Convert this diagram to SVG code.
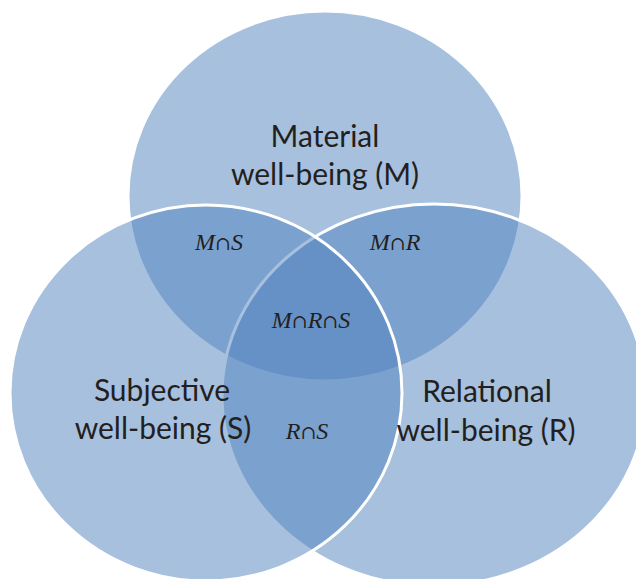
<svg xmlns="http://www.w3.org/2000/svg" width="636" height="579" viewBox="0 0 636 579">
<style>
.set{fill:#4f81bd;fill-opacity:0.5;stroke:#ffffff;stroke-width:3}
.lbl{font-family:Lato,"Open Sans","Liberation Sans",sans-serif;font-size:30px;fill:#231f20;text-anchor:middle}
.math{font-family:"Liberation Serif","DejaVu Serif",serif;font-size:24px;font-style:italic;fill:#231f20;text-anchor:middle}
.op{font-family:"DejaVu Serif","Liberation Serif",serif;font-style:normal;font-size:19px}
</style>
<rect width="636" height="579" fill="#ffffff"/>
<g id="node-M">
<ellipse class="set" cx="325" cy="196" rx="197" ry="185"/>
<text class="lbl" x="325" y="147">Material</text>
<text class="lbl" x="325" y="185">well-being (M)</text>
</g>
<g id="node-R">
<ellipse class="set" cx="434" cy="395" rx="212" ry="191"/>
</g>
<g id="node-S">
<ellipse class="set" cx="206" cy="393" rx="196" ry="188"/>
</g>
<g id="labels-sets">
<text class="lbl" x="162" y="401">Subjective</text>
<text class="lbl" x="163" y="439">well-being (S)</text>
<text class="lbl" x="487" y="402">Relational</text>
<text class="lbl" x="486" y="441">well-being (R)</text>
</g>
<g id="labels-intersections">
<text class="math" x="219" y="250">M<tspan class="op">∩</tspan>S</text>
<text class="math" x="395" y="250">M<tspan class="op">∩</tspan>R</text>
<text class="math" x="311" y="328">M<tspan class="op">∩</tspan>R<tspan class="op">∩</tspan>S</text>
<text class="math" x="307" y="439">R<tspan class="op">∩</tspan>S</text>
</g>
</svg>
